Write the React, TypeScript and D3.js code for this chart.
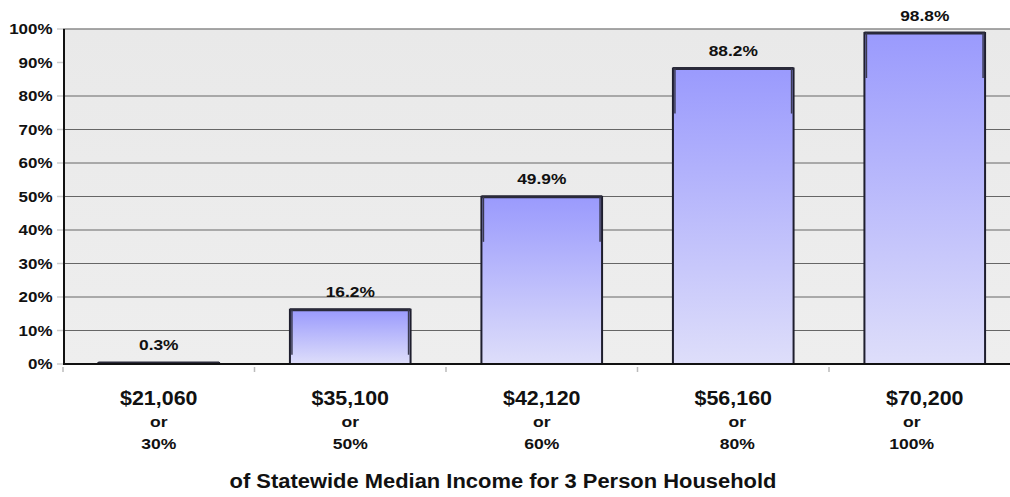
import React from "react";
import * as d3 from "d3";

const incomes = ["$21,060", "$35,100", "$42,120", "$56,160", "$70,200"];
const medianShares = ["30%", "50%", "60%", "80%", "100%"];
const values = [0.3, 16.2, 49.9, 88.2, 98.8];
const yTicks = [0, 10, 20, 30, 40, 50, 60, 70, 80, 90, 100];
const gridValues = [10, 20, 30, 40, 50, 60, 70, 80];
const xTitle = "of Statewide Median Income for 3 Person Household";

// layout-only horizontal nudges for the "or"/percent lines
const subShift = [0, 0, 0, 4, -13];

const W = 1010;
const H = 497;
const left = 63;
const top = 29;
const bottom = 364;

type TProps = {
  x: number;
  y: number;
  size: number;
  sx: number;
  anchor: "start" | "middle" | "end";
  children: React.ReactNode;
};

function T({ x, y, size, sx, anchor, children }: TProps) {
  return (
    <text
      transform={`translate(${x},${y}) scale(${sx},1)`}
      textAnchor={anchor}
      fontSize={size}
      fontWeight="bold"
      fill="#111"
    >
      {children}
    </text>
  );
}

export default function App() {
  const x = d3
    .scaleBand<string>()
    .domain(incomes)
    .range([left, 1020.5])
    .paddingInner(0.37)
    .paddingOuter(0.185);
  const y = d3.scaleLinear().domain([0, 100]).range([bottom, top]);
  const bw = x.bandwidth();
  const font = "'Liberation Sans', Arial, Helvetica, sans-serif";
  const stepX = x.step();
  const sepTicks = d3.range(0, incomes.length).map((i) => left + i * stepX);

  return (
    <svg
      width={W}
      height={H}
      style={{ position: "absolute", left: 0, top: 0, background: "#fff" }}
      fontFamily={font}
    >
      <defs>
        <linearGradient id="barGrad" x1="0" y1="0" x2="0" y2="1">
          <stop offset="0" stopColor="#9a9afd" />
          <stop offset="1" stopColor="#dedefa" />
        </linearGradient>
        <linearGradient id="bgGrad" x1="0" y1="0" x2="0" y2="1">
          <stop offset="0" stopColor="#e9e9e9" />
          <stop offset="1" stopColor="#eeeeee" />
        </linearGradient>
      </defs>
      {/* plot background */}
      <rect x={left} y={top} width={W - left} height={bottom - top} fill="url(#bgGrad)" />
      {/* grid lines */}
      {gridValues.map((v) => (
        <line key={v} x1={left} x2={W} y1={y(v)} y2={y(v)} stroke="#666" strokeWidth={1} />
      ))}
      {/* top border */}
      <line x1={left} x2={W} y1={y(100)} y2={y(100)} stroke="#8a8a8a" strokeWidth={1.5} />
      {/* y tick marks */}
      {yTicks.map((v) => (
        <line key={"yt" + v} x1={57} x2={left} y1={y(v)} y2={y(v)} stroke="#ccc" strokeWidth={1.5} />
      ))}
      {/* x separator ticks */}
      {sepTicks.map((t, i) => (
        <line key={"xt" + i} x1={t} x2={t} y1={bottom + 3} y2={bottom + 8} stroke="#bbb" strokeWidth={1.5} />
      ))}
      {/* bars */}
      {values.map((v, i) => {
        const bx = x(incomes[i])!;
        const by = y(v);
        const h = bottom - by;
        const sideH = Math.min(45, h);
        return (
          <g key={i}>
            <rect
              x={bx}
              y={by}
              width={bw}
              height={h}
              fill="url(#barGrad)"
              stroke="#1e1e2e"
              strokeWidth={2}
            />
            <line x1={bx} x2={bx + bw} y1={by} y2={by} stroke="#2a2a3a" strokeWidth={3} />
            {h > 6 && (
              <>
                <line x1={bx + 2} x2={bx + 2} y1={by} y2={by + sideH} stroke="#3a3a50" strokeWidth={1.5} />
                <line x1={bx + bw - 2} x2={bx + bw - 2} y1={by} y2={by + sideH} stroke="#3a3a50" strokeWidth={1.5} />
              </>
            )}
          </g>
        );
      })}
      {/* axes */}
      <line x1={left + 1} x2={left + 1} y1={top} y2={bottom + 1} stroke="#111" strokeWidth={2} />
      <line x1={left} x2={W} y1={bottom} y2={bottom} stroke="#111" strokeWidth={2} />
      {/* y tick labels */}
      {yTicks.map((v) => (
        <T key={"yl" + v} x={52.5} y={y(v) + 5} size={14.5} sx={1.17} anchor="end">
          {v + "%"}
        </T>
      ))}
      {/* value labels */}
      {values.map((v, i) => (
        <T key={"vl" + i} x={x(incomes[i])! + bw / 2} y={y(v) - 12.5} size={15.5} sx={1.12} anchor="middle">
          {v.toFixed(1) + "%"}
        </T>
      ))}
      {/* category labels */}
      {incomes.map((c, i) => {
        const cx = x(c)! + bw / 2;
        return (
          <g key={"cl" + i}>
            <T x={cx} y={404.5} size={19.5} sx={1.1} anchor="middle">
              {c}
            </T>
            <T x={cx + subShift[i]} y={427} size={15} sx={1.17} anchor="middle">
              or
            </T>
            <T x={cx + subShift[i]} y={448.5} size={15} sx={1.17} anchor="middle">
              {medianShares[i]}
            </T>
          </g>
        );
      })}
      {/* axis title */}
      <T x={503} y={488} size={20.5} sx={1.07} anchor="middle">
        {xTitle}
      </T>
    </svg>
  );
}
